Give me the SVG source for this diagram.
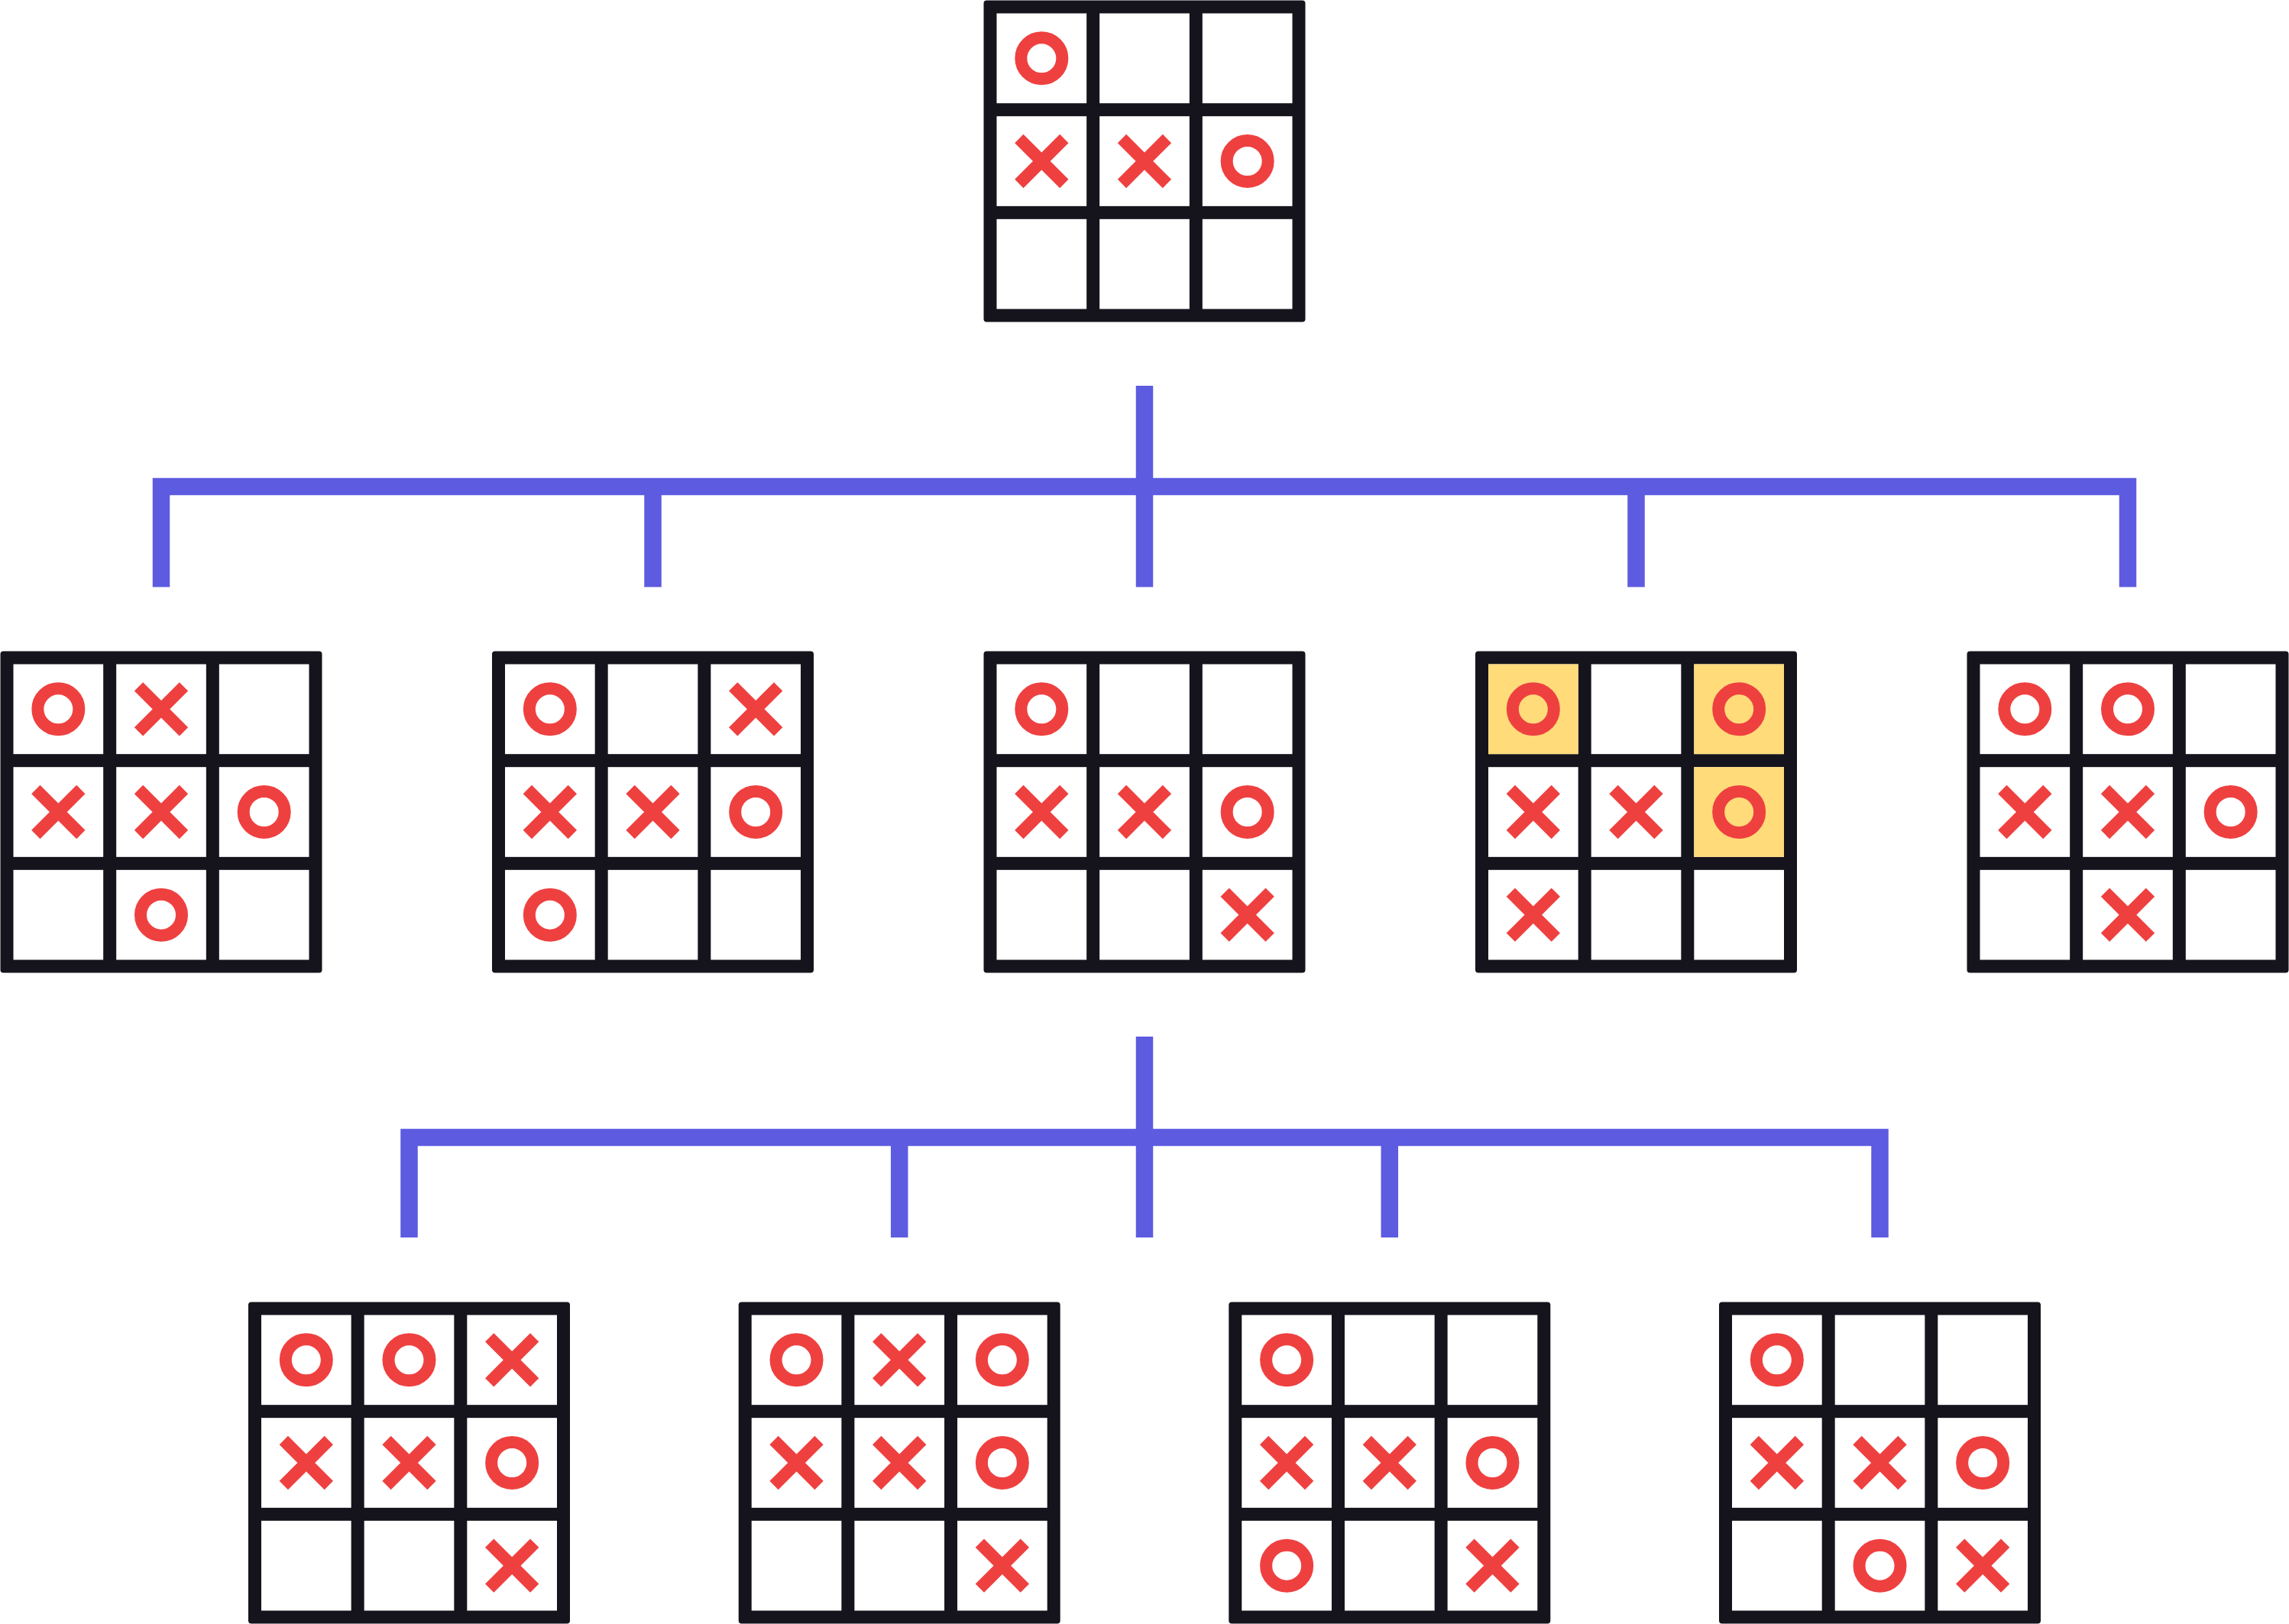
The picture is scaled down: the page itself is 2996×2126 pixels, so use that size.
<svg xmlns="http://www.w3.org/2000/svg" xmlns:xlink="http://www.w3.org/1999/xlink" width="2996" height="2126" viewBox="0 0 2996 2126">
<style>
.frame{fill:#15141C}
.cell{fill:#FFFFFF}
.hl{fill:#FFDB7A}
.mark{fill:none;stroke:#EF4040;stroke-width:16}
.conn{fill:none;stroke:#5D5BE0;stroke-width:22.5;stroke-linecap:butt;stroke-linejoin:miter}
</style>
<defs>
<g id="grid">
<rect class="frame" x="0" y="0" width="421" height="421" rx="4"/>
<rect class="cell" x="17" y="17" width="117.67" height="117.67"/>
<rect class="cell" x="151.67" y="17" width="117.67" height="117.67"/>
<rect class="cell" x="286.33" y="17" width="117.67" height="117.67"/>
<rect class="cell" x="17" y="151.67" width="117.67" height="117.67"/>
<rect class="cell" x="151.67" y="151.67" width="117.67" height="117.67"/>
<rect class="cell" x="286.33" y="151.67" width="117.67" height="117.67"/>
<rect class="cell" x="17" y="286.33" width="117.67" height="117.67"/>
<rect class="cell" x="151.67" y="286.33" width="117.67" height="117.67"/>
<rect class="cell" x="286.33" y="286.33" width="117.67" height="117.67"/>
</g>
<circle id="O" class="mark" cx="0" cy="0" r="27"/>
<path id="X" class="mark" d="M-29.5,-29.5 L29.5,29.5 M29.5,-29.5 L-29.5,29.5"/>
</defs>

<g id="connectors">
<path class="conn" d="M1498,505 V768.5"/>
<path class="conn" d="M211,768.5 V637 H2785 V768.5"/>
<path class="conn" d="M854.5,637 V768.5"/>
<path class="conn" d="M2141.5,637 V768.5"/>
<path class="conn" d="M1498,1357 V1620"/>
<path class="conn" d="M535.5,1620 V1489 H2460.5 V1620"/>
<path class="conn" d="M1177.2,1489 V1620"/>
<path class="conn" d="M1818.8,1489 V1620"/>
</g>

<g id="root" transform="translate(1287.5,0.5)">
<use href="#grid"/>
<use href="#O" x="75.83" y="75.83"/>
<use href="#X" x="75.83" y="210.5"/>
<use href="#X" x="210.5" y="210.5"/>
<use href="#O" x="345.17" y="210.5"/>
</g>

<g id="move1" transform="translate(0.5,852.5)">
<use href="#grid"/>
<use href="#O" x="75.83" y="75.83"/>
<use href="#X" x="210.5" y="75.83"/>
<use href="#X" x="75.83" y="210.5"/>
<use href="#X" x="210.5" y="210.5"/>
<use href="#O" x="345.17" y="210.5"/>
<use href="#O" x="210.5" y="345.17"/>
</g>

<g id="move2" transform="translate(644,852.5)">
<use href="#grid"/>
<use href="#O" x="75.83" y="75.83"/>
<use href="#X" x="345.17" y="75.83"/>
<use href="#X" x="75.83" y="210.5"/>
<use href="#X" x="210.5" y="210.5"/>
<use href="#O" x="345.17" y="210.5"/>
<use href="#O" x="75.83" y="345.17"/>
</g>

<g id="move3" transform="translate(1287.5,852.5)">
<use href="#grid"/>
<use href="#O" x="75.83" y="75.83"/>
<use href="#X" x="75.83" y="210.5"/>
<use href="#X" x="210.5" y="210.5"/>
<use href="#O" x="345.17" y="210.5"/>
<use href="#X" x="345.17" y="345.17"/>
</g>

<g id="move4" transform="translate(1931,852.5)">
<use href="#grid"/>
<rect class="hl" x="17" y="17" width="117.67" height="117.67"/>
<rect class="hl" x="286.33" y="17" width="117.67" height="117.67"/>
<rect class="hl" x="286.33" y="151.67" width="117.67" height="117.67"/>
<use href="#O" x="75.83" y="75.83"/>
<use href="#O" x="345.17" y="75.83"/>
<use href="#X" x="75.83" y="210.5"/>
<use href="#X" x="210.5" y="210.5"/>
<use href="#O" x="345.17" y="210.5"/>
<use href="#X" x="75.83" y="345.17"/>
</g>

<g id="move5" transform="translate(2574.5,852.5)">
<use href="#grid"/>
<use href="#O" x="75.83" y="75.83"/>
<use href="#O" x="210.5" y="75.83"/>
<use href="#X" x="75.83" y="210.5"/>
<use href="#X" x="210.5" y="210.5"/>
<use href="#O" x="345.17" y="210.5"/>
<use href="#X" x="210.5" y="345.17"/>
</g>

<g id="reply1" transform="translate(325,1704.5)">
<use href="#grid"/>
<use href="#O" x="75.83" y="75.83"/>
<use href="#O" x="210.5" y="75.83"/>
<use href="#X" x="345.17" y="75.83"/>
<use href="#X" x="75.83" y="210.5"/>
<use href="#X" x="210.5" y="210.5"/>
<use href="#O" x="345.17" y="210.5"/>
<use href="#X" x="345.17" y="345.17"/>
</g>

<g id="reply2" transform="translate(966.7,1704.5)">
<use href="#grid"/>
<use href="#O" x="75.83" y="75.83"/>
<use href="#X" x="210.5" y="75.83"/>
<use href="#O" x="345.17" y="75.83"/>
<use href="#X" x="75.83" y="210.5"/>
<use href="#X" x="210.5" y="210.5"/>
<use href="#O" x="345.17" y="210.5"/>
<use href="#X" x="345.17" y="345.17"/>
</g>

<g id="reply3" transform="translate(1608.3,1704.5)">
<use href="#grid"/>
<use href="#O" x="75.83" y="75.83"/>
<use href="#X" x="75.83" y="210.5"/>
<use href="#X" x="210.5" y="210.5"/>
<use href="#O" x="345.17" y="210.5"/>
<use href="#O" x="75.83" y="345.17"/>
<use href="#X" x="345.17" y="345.17"/>
</g>

<g id="reply4" transform="translate(2250,1704.5)">
<use href="#grid"/>
<use href="#O" x="75.83" y="75.83"/>
<use href="#X" x="75.83" y="210.5"/>
<use href="#X" x="210.5" y="210.5"/>
<use href="#O" x="345.17" y="210.5"/>
<use href="#O" x="210.5" y="345.17"/>
<use href="#X" x="345.17" y="345.17"/>
</g>
</svg>
